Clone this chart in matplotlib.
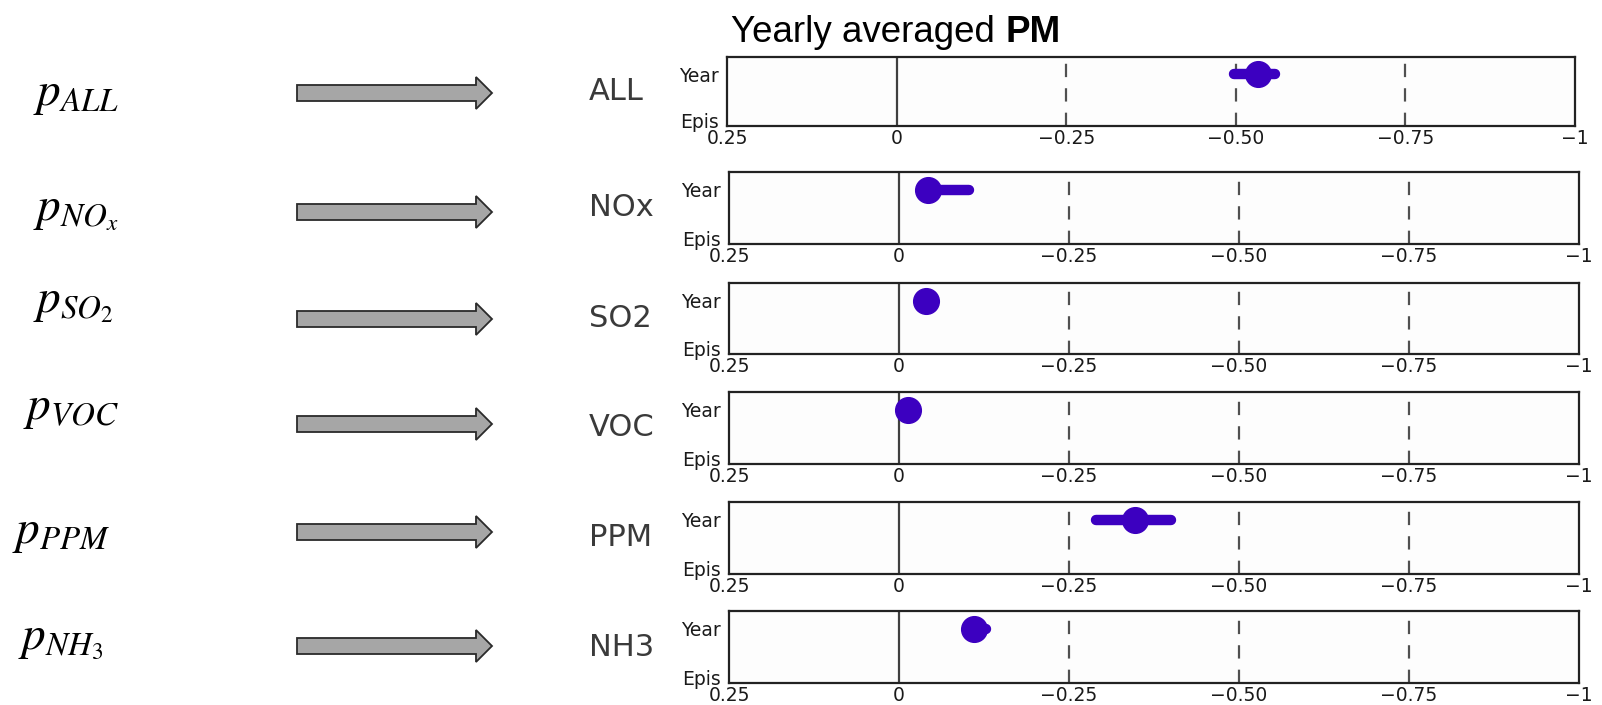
import matplotlib
matplotlib.use('Agg')
import matplotlib.pyplot as plt
from matplotlib.patches import FancyArrow

# data
species = ['ALL', 'NOx', 'SO2', 'VOC', 'PPM', 'NH3']
p_labels = [r'$p_{ALL}$', r'$p_{NO_x}$', r'$p_{SO_2}$', r'$p_{VOC}$', r'$p_{PPM}$', r'$p_{NH_3}$']
year_mid = [-0.533, -0.043, -0.040, -0.013, -0.347, -0.110]
year_left = [-0.497, -0.043, -0.040, -0.013, -0.290, -0.110]
year_right = [-0.558, -0.103, -0.040, -0.013, -0.400, -0.128]
xtick_vals = [0.25, 0, -0.25, -0.5, -0.75, -1]
xtick_labels = ['0.25', '0', '\u22120.25', '\u22120.50', '\u22120.75', '\u22121']
ref_lines = [-0.25, -0.5, -0.75]

W, H = 1602, 705
fig = plt.figure(figsize=(W / 100, H / 100), dpi=100)

# panel frames in pixels (left, top, right, bottom)
frames = [(727, 57, 1575, 126), (729, 172, 1579, 244), (729, 283, 1579, 354),
          (729, 392, 1579, 464), (729, 502, 1579, 574), (729, 611, 1579, 683)]
# left column: label baseline and arrow centre y
p_pos = [(33, 105), (33, 220), (33, 312), (23, 419), (12, 543), (18, 649)]
arrow_y = [93, 212, 319, 424, 532, 646]

# overlay in pixel coords for arrows, math labels and title
ov = fig.add_axes([0, 0, 1, 1], zorder=0)
ov.set_xlim(0, W); ov.set_ylim(H, 0)
ov.axis('off')

mark_col = '#3c00c0'

for i, name in enumerate(species):
    l, t, r, b = frames[i]
    ax = fig.add_axes([l / W, (H - b) / H, (r - l) / W, (b - t) / H], zorder=2)
    ax.set_facecolor('#fdfdfd')
    ax.set_xlim(0.25, -1)
    ax.set_ylim(-0.12, 1.37)
    ax.axvline(0, color='#404040', lw=1.6)
    for v in ref_lines:
        ax.axvline(v, color='#505050', lw=1.6, dashes=(6, 5))
    # Year estimate: range line + central dot
    ax.plot([year_left[i], year_right[i]], [1, 1], color=mark_col, lw=7.5,
            solid_capstyle='round', zorder=3)
    ax.plot([year_mid[i]], [1], 'o', color=mark_col, ms=18.5, mec=mark_col, zorder=4)
    ax.set_xticks(xtick_vals)
    ax.set_xticklabels(xtick_labels, fontsize=13.5, color='#1a1a1a')
    ax.set_yticks([0, 1])
    ax.set_yticklabels(['Epis', 'Year'], fontsize=13.5, color='#1a1a1a')
    ax.tick_params(length=0, pad=2)
    ax.tick_params(axis='y', pad=6)
    for s in ax.spines.values():
        s.set_color('#222222'); s.set_linewidth(1.6)

    # species name to the left of the panel
    ov.text(589, (t + b) / 2, name, fontsize=22, family='DejaVu Sans',
            color='#3a3a3a', ha='left', va='center')

    # math label and arrow
    px, py = p_pos[i]
    ov.text(px, py, p_labels[i], fontsize=34, math_fontfamily='stix',
            ha='left', va='baseline', color='black')
    ay = arrow_y[i]
    ov.add_patch(FancyArrow(297, ay, 195, 0, width=16, head_width=32, head_length=16,
                            length_includes_head=True, facecolor='#a6a6a6',
                            edgecolor='#2a2a2a', lw=1.3))

# title with bold "PM"
t1 = ov.text(731, 42, 'Yearly averaged ', fontsize=26.5, family='Liberation Sans',
             ha='left', va='baseline')
fig.canvas.draw()
bb = t1.get_window_extent(fig.canvas.get_renderer())
x_end = ov.transData.inverted().transform((bb.x1, bb.y0))[0]
ov.text(x_end, 42, 'PM', fontsize=26.5, family='Liberation Sans', fontweight='bold',
        ha='left', va='baseline')

fig.savefig('out.png', dpi=100)
